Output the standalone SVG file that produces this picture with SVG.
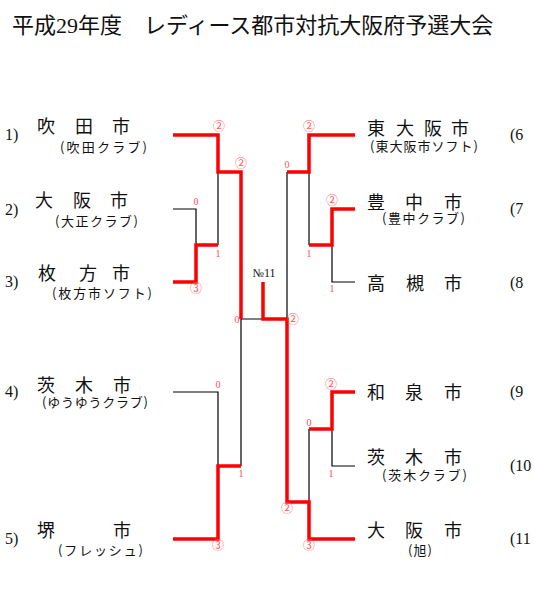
<svg xmlns="http://www.w3.org/2000/svg" width="534" height="589" viewBox="0 0 534 589">
<style>
.title{font-family:"Liberation Serif","Noto Sans CJK JP",serif;font-size:22px;fill:#111}
.name{font-family:"Noto Sans CJK JP",sans-serif;font-size:18px;fill:#111}
.sub{font-family:"Noto Sans CJK JP",sans-serif;font-size:13px;fill:#111}
.num{font-family:"Liberation Serif","DejaVu Serif",serif;font-size:16px;fill:#111}
.blk{fill:none;stroke:#000;stroke-width:1.2}
.red{fill:none;stroke:#ff0000;stroke-width:3.5;stroke-linejoin:miter}
.sc{font-family:"Liberation Serif",serif;font-size:10px;fill:#ff5050;text-anchor:middle}
.cn{font-family:"Noto Sans CJK JP",sans-serif;font-size:12px;fill:#ff5a5a;text-anchor:middle}
.no{font-family:"Liberation Serif","DejaVu Serif",serif;font-size:12px;fill:#111;text-anchor:middle}
</style>
<rect width="534" height="589" fill="#fff"/>
<text class="title" x="12" y="33">平成29年度　レディース都市対抗大阪府予選大会</text>

<g id="connectors">
  <path class="blk" d="M173,209 H196 V245"/>
  <path class="blk" d="M218,245 V172"/>
  <path class="blk" d="M241,466 V319 H263"/>
  <path class="blk" d="M173,392 H218 V466"/>
  <path class="blk" d="M355,282 H332 V245"/>
  <path class="blk" d="M309,245 V172"/>
  <path class="blk" d="M287,172 V319"/>
  <path class="blk" d="M355,466 H332 V429"/>
  <path class="blk" d="M309,429 V502"/>
  <path class="red" d="M173,135 H218 V172 H241 V319"/>
  <path class="red" d="M173,282 H196 V245 H218"/>
  <path class="red" d="M173,539 H218 V466 H241"/>
  <path class="red" d="M355,135 H309 V172 H287"/>
  <path class="red" d="M355,209 H332 V245 H309"/>
  <path class="red" d="M355,392 H332 V429 H309"/>
  <path class="red" d="M355,539 H309 V502 H287 V319 H263 V282"/>
</g>

<g id="scores">
  <text class="cn" x="219" y="131">②</text>
  <text class="sc" x="196" y="205">0</text>
  <text class="cn" x="196" y="293">③</text>
  <text class="sc" x="218" y="257">1</text>
  <text class="cn" x="241" y="168">②</text>
  <text class="sc" x="237" y="323">0</text>
  <text class="sc" x="218" y="388">0</text>
  <text class="cn" x="218" y="550">③</text>
  <text class="sc" x="241" y="477">1</text>
  <text class="cn" x="309" y="131">②</text>
  <text class="sc" x="287" y="168">0</text>
  <text class="cn" x="332" y="205">②</text>
  <text class="sc" x="309" y="257">1</text>
  <text class="sc" x="332" y="292">1</text>
  <text class="cn" x="331" y="389">②</text>
  <text class="sc" x="309" y="426">0</text>
  <text class="sc" x="331" y="477">1</text>
  <text class="cn" x="287" y="513">②</text>
  <text class="cn" x="309" y="550">③</text>
  <text class="cn" x="293" y="324">②</text>
  <text class="no" x="264" y="277">№11</text>
</g>

<g id="team1">
  <text class="num" x="5" y="140">1)</text>
  <text class="name" x="37 75 112" y="133">吹田市</text>
  <text class="sub" x="60" y="152" textLength="87" lengthAdjust="spacing">(吹田クラブ)</text>
</g>
<g id="team2">
  <text class="num" x="5" y="215">2)</text>
  <text class="name" x="35 73 110" y="207">大阪市</text>
  <text class="sub" x="55" y="226" textLength="83" lengthAdjust="spacing">(大正クラブ)</text>
</g>
<g id="team3">
  <text class="num" x="5" y="287">3)</text>
  <text class="name" x="38 79 112" y="280">枚方市</text>
  <text class="sub" x="52" y="298" textLength="100" lengthAdjust="spacing">(枚方市ソフト)</text>
</g>
<g id="team4">
  <text class="num" x="5" y="397">4)</text>
  <text class="name" x="37 75 113" y="392">茨木市</text>
  <text class="sub" x="42" y="407" textLength="106" lengthAdjust="spacing">(ゆうゆうクラブ)</text>
</g>
<g id="team5">
  <text class="num" x="5" y="544">5)</text>
  <text class="name" x="37 113" y="537">堺市</text>
  <text class="sub" x="58" y="555" textLength="85" lengthAdjust="spacing">(フレッシュ)</text>
</g>
<g id="team6">
  <text class="name" x="367 396 424 451" y="135">東大阪市</text>
  <text class="sub" x="370" y="151" textLength="108" lengthAdjust="spacing">(東大阪市ソフト)</text>
  <text class="num" x="510" y="140">(6</text>
</g>
<g id="team7">
  <text class="name" x="367 405 444" y="209">豊中市</text>
  <text class="sub" x="382" y="223" textLength="83" lengthAdjust="spacing">(豊中クラブ)</text>
  <text class="num" x="510" y="214">(7</text>
</g>
<g id="team8">
  <text class="name" x="367 406 444" y="290">高槻市</text>
  <text class="num" x="510" y="288">(8</text>
</g>
<g id="team9">
  <text class="name" x="367 405 444" y="399">和泉市</text>
  <text class="num" x="510" y="397">(9</text>
</g>
<g id="team10">
  <text class="name" x="367 405 444" y="464">茨木市</text>
  <text class="sub" x="382" y="480" textLength="85" lengthAdjust="spacing">(茨木クラブ)</text>
  <text class="num" x="510" y="471">(10</text>
</g>
<g id="team11">
  <text class="name" x="367 405 444" y="537">大阪市</text>
  <text class="sub" x="408" y="555" textLength="24" lengthAdjust="spacing">(旭)</text>
  <text class="num" x="510" y="544">(11</text>
</g>
</svg>
